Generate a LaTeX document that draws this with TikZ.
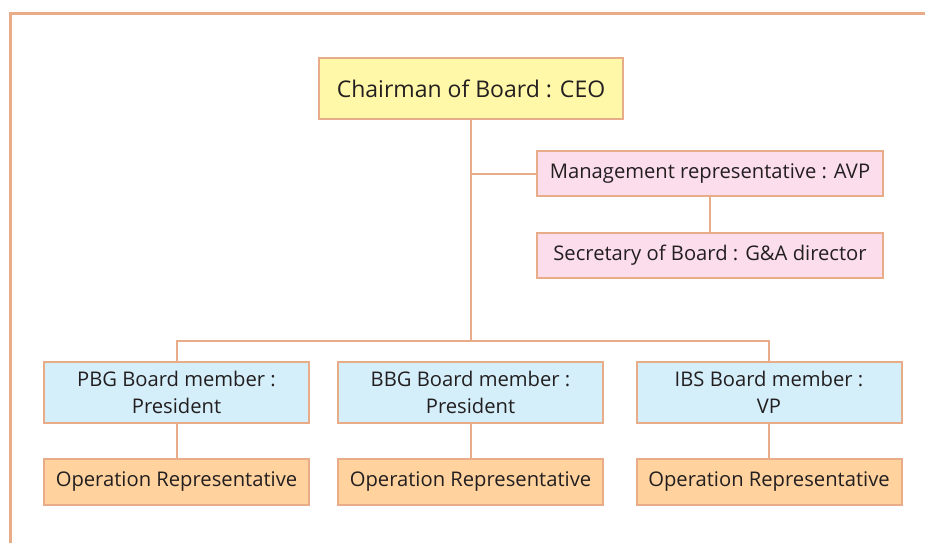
\documentclass[tikz,border=0pt]{standalone}
\usepackage{fontspec}
\setmainfont{Open Sans}
\definecolor{edge}{HTML}{E8AC88}
\definecolor{ink}{HTML}{231F20}
\definecolor{ceofill}{HTML}{FFF8A8}
\definecolor{pinkfill}{HTML}{FCDDEB}
\definecolor{bluefill}{HTML}{D4EEFA}
\definecolor{orangefill}{HTML}{FFD29E}

\begin{document}
\begin{tikzpicture}[x=1pt, y=-1pt, line width=2pt, draw=edge,
  box/.style={draw=edge, line width=2pt, inner sep=0pt, align=center, text=ink,
    font=\fontsize{20.2}{27}\selectfont},
  chair/.style={box, fill=ceofill, minimum width=304pt, minimum height=61pt,
    font=\fontsize{23}{27}\selectfont},
  staff/.style={box, fill=pinkfill, minimum width=346pt, minimum height=45pt},
  board/.style={box, fill=bluefill, minimum width=265pt, minimum height=61pt},
  oprep/.style={box, fill=orangefill, minimum width=265pt, minimum height=46pt}]
  \useasboundingbox (0,0) rectangle (925,543);
  % frame
  \draw [edge, line width=3pt] (10,543) -- (10,13.5) -- (925,13.5);

  \node [chair] (ceo) at (471,88.5) {Chairman of Board : CEO};
  \node [staff] (mgmt) at (710,173.5) {Management representative : AVP};
  \node [staff] (sec) at (710,255.5) {Secretary of Board : G\&A director};
  \coordinate (bus) at (471,341);

  \foreach \n/\x/\t/\r in {pbg/176.5/PBG/President, bbg/470.5/BBG/President, ibs/769/IBS/VP}
  {
    \node [board] (\n) at (\x,392.5) {\t{} Board member :\\\r};
    \node [oprep] (op\n) at (\x,482) {Operation Representative};
    \draw [edge] (\n) -- (op\n);
  }

  \draw [edge] (ceo) -- (ceo |- bus);
  \draw [edge] (ceo |- mgmt) -- (mgmt);
  \draw [edge] (mgmt) -- (sec);
  \draw [edge] (pbg) -- (pbg |- bus) -- (ibs |- bus) -- (ibs);
\end{tikzpicture}
\end{document}
